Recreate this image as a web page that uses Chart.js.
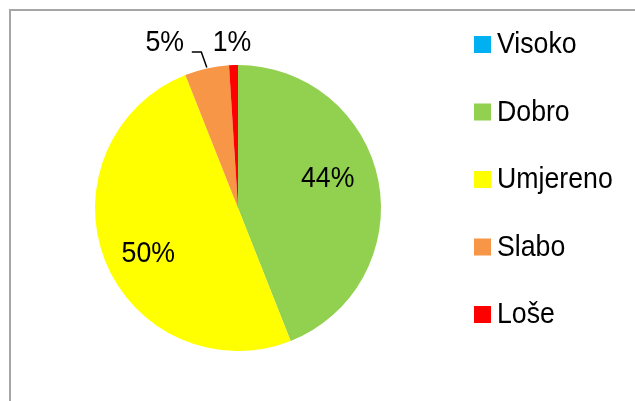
<!DOCTYPE html>
<html>
<head>
<meta charset="utf-8">
<script src="https://cdn.jsdelivr.net/npm/chart.js@4/dist/chart.umd.min.js"></script>
<style>
  html, body { margin: 0; padding: 0; background: #fff; overflow: hidden; }
  #wrap { position: relative; width: 635px; height: 401px; }
  #frame { position: absolute; left: 9px; top: 9px; width: 700px; height: 500px; border: 2px solid #a6a6a6; box-sizing: border-box; }
  canvas { position: absolute; left: 0; top: 0; }
</style>
</head>
<body>
<div id="wrap">
  <div id="frame"></div>
  <canvas id="myChart" width="635" height="401"></canvas>
</div>
<script>
const categories = ['Visoko', 'Dobro', 'Umjereno', 'Slabo', 'Loše'];
const shares = [0, 44, 50, 5, 1];
const colors = ['#00B0F0', '#92D050', '#FFFF00', '#F79646', '#FF0000'];

const FONT = '30px "Liberation Sans", Arial, sans-serif';
const SQUEEZE = 0.89; // the original font is a narrow one

// draw text squeezed horizontally, x is the anchor, y the baseline
function narrowText(ctx, text, x, y, align) {
    ctx.save();
    ctx.translate(x, y);
    ctx.scale(SQUEEZE, 1);
    ctx.textAlign = align;
    ctx.textBaseline = 'alphabetic';
    ctx.fillText(text, 0, 0);
    ctx.restore();
}

// percent labels, Excel style: big ones inside, small ones outside
const pieLabels = {
    id: 'pieLabels',
    afterDatasetsDraw(chart) {
        const ctx = chart.ctx;
        const meta = chart.getDatasetMeta(0);
        const total = shares.reduce((a, b) => a + b, 0);
        ctx.save();
        ctx.fillStyle = '#000';
        ctx.font = FONT;
        meta.data.forEach((arc, i) => {
            const v = shares[i];
            if (!v) return;
            const pct = Math.round(v / total * 100) + '%';
            const mid = (arc.startAngle + arc.endAngle) / 2;
            const r = arc.outerRadius;
            const cx = arc.x, cy = arc.y;
            if (v >= 10) {
                const k = 0.66;
                let x = cx + Math.cos(mid) * r * k;
                let y = cy + Math.sin(mid) * r * k;
                if (i === 1) { x -= 3; y -= 14; }
                if (i === 2) { x -= 2; y += 9; }
                narrowText(ctx, pct, x, y + 10.5, 'center');
            } else {
                const ex = cx + Math.cos(mid) * r;
                const ey = cy + Math.sin(mid) * r;
                if (i === 3) {
                    // leader line to the label up-left
                    ctx.strokeStyle = '#000';
                    ctx.lineWidth = 1.5;
                    ctx.beginPath();
                    ctx.moveTo(ex, ey - 1);
                    ctx.lineTo(ex - 5.5, ey - 16.5);
                    ctx.lineTo(ex - 15, ey - 16.5);
                    ctx.stroke();
                    narrowText(ctx, pct, ex - 42, ey - 17, 'center');
                } else {
                    narrowText(ctx, pct, ex - 1.5, ey - 14, 'center');
                }
            }
        });
        ctx.restore();
    }
};

// legend on the right, drawn from the same arrays
const sideLegend = {
    id: 'sideLegend',
    afterDraw(chart) {
        const ctx = chart.ctx;
        ctx.save();
        ctx.font = FONT;
        categories.forEach((name, i) => {
            const y = 44.5 + i * 67.5;
            ctx.fillStyle = colors[i];
            ctx.fillRect(474, y - 8.5, 17, 17);
            ctx.fillStyle = '#000';
            narrowText(ctx, name, 497, y + 8.5, 'left');
        });
        ctx.restore();
    }
};

new Chart(document.getElementById('myChart').getContext('2d'), {
    type: 'pie',
    data: {
        labels: categories,
        datasets: [{
            data: shares,
            backgroundColor: colors,
            borderWidth: 0
        }]
    },
    options: {
        responsive: false,
        animation: false,
        layout: { padding: { left: 95, right: 254, top: 65, bottom: 50 } },
        plugins: {
            legend: { display: false },
            tooltip: { enabled: false }
        }
    },
    plugins: [pieLabels, sideLegend]
});
</script>
</body>
</html>
